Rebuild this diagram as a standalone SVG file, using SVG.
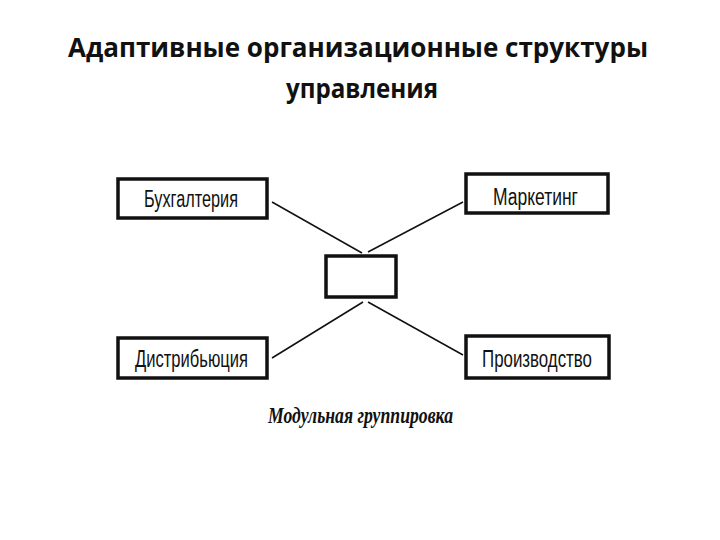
<svg xmlns="http://www.w3.org/2000/svg" width="720" height="540" viewBox="0 0 720 540">
<style>
.title{font-family:"Open Sans","Liberation Sans",sans-serif;font-weight:bold;font-size:26px;fill:#111}
.box{fill:#fff;stroke:#111;stroke-width:3.5}
.lbl{font-family:"Liberation Sans Narrow","Liberation Sans",sans-serif;font-size:23px;fill:#111}
.conn{stroke:#111;stroke-width:1.5;fill:none}
.cap{font-family:"Liberation Serif",serif;font-style:italic;font-weight:bold;font-size:24px;fill:#111}
</style>
<rect width="720" height="540" fill="#fff"/>
<text class="title" x="358" y="57" text-anchor="middle" textLength="580" lengthAdjust="spacingAndGlyphs">Адаптивные организационные структуры</text>
<text class="title" x="362" y="98" text-anchor="middle" textLength="152" lengthAdjust="spacingAndGlyphs">управления</text>
<g id="connectors">
<line class="conn" x1="272" y1="202" x2="362" y2="253"/>
<line class="conn" x1="463" y1="202" x2="368" y2="252"/>
<line class="conn" x1="272" y1="358" x2="363" y2="302"/>
<line class="conn" x1="368" y1="302" x2="463" y2="355"/>
</g>
<g id="center"><rect class="box" x="326" y="256" width="70" height="41"/></g>
<g id="buh"><rect class="box" x="118" y="179" width="149" height="39"/><text class="lbl" x="144" y="207" textLength="94" lengthAdjust="spacingAndGlyphs">Бухгалтерия</text></g>
<g id="mark"><rect class="box" x="466" y="174" width="142" height="39"/><text class="lbl" x="493" y="205" textLength="85" lengthAdjust="spacingAndGlyphs">Маркетинг</text></g>
<g id="distr"><rect class="box" x="118" y="338" width="149" height="40"/><text class="lbl" x="135" y="367" textLength="113" lengthAdjust="spacingAndGlyphs">Дистрибьюция</text></g>
<g id="proizv"><rect class="box" x="466" y="336" width="143" height="42"/><text class="lbl" x="482" y="367" textLength="110" lengthAdjust="spacingAndGlyphs">Производство</text></g>
<text class="cap" x="268" y="423" textLength="185" lengthAdjust="spacingAndGlyphs">Модульная группировка</text>
</svg>
